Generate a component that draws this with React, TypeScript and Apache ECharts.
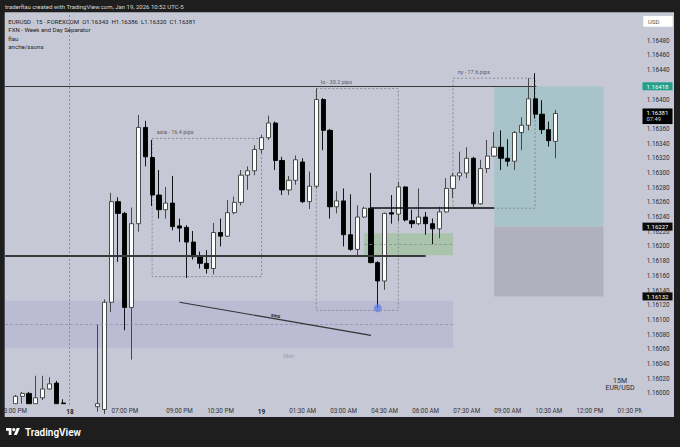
import React, { useEffect, useRef } from "react";
import * as echarts from "echarts";

const FONT = "Roboto, 'Noto Sans', sans-serif";
const BG = "#c7c8d6";
const FRAME = "#1e1e1e";

function quarterHours(day: string, startHour: number, count: number): string[] {
  const out: string[] = [];
  for (let i = 0; i < count; i++) {
    const m = Math.round(startHour * 60) + i * 15;
    const hh = String(Math.floor(m / 60)).padStart(2, "0");
    const mm = String(m % 60).padStart(2, "0");
    out.push(`${day} ${hh}:${mm}`);
  }
  return out;
}

// 15-minute bars: Friday close, Sunday open, Monday
const categories: string[] = [
  ...quarterHours("16", 14.75, 9),
  ...quarterHours("18", 17, 28),
  ...quarterHours("19", 0, 56),
];

const tickKeys = ["16 15:00", "18 17:00", "18 19:00", "18 21:00", "18 22:30", "19 00:00", "19 01:30", "19 03:00", "19 04:30", "19 06:00", "19 07:30", "19 09:00", "19 10:30", "19 12:00", "19 13:30"];
const tickTexts = ["3:00 PM", "18", "07:00 PM", "09:00 PM", "10:30 PM", "19", "01:30 AM", "03:00 AM", "04:30 AM", "06:00 AM", "07:30 AM", "09:00 AM", "10:30 AM", "12:00 PM", "01:30 PM"];
const boldTicks = ["18", "19"];

// price scale labels (1.16420 and 1.16380 sit fully under the price tags)
const priceTicks = [1.16, 1.1602, 1.1604, 1.1606, 1.1608, 1.161, 1.1612, 1.1614, 1.1616, 1.1618, 1.162, 1.1622, 1.1624, 1.1626, 1.1628, 1.163, 1.1632, 1.1634, 1.1636, 1.164, 1.1644, 1.1646, 1.1648];

// Friday bars from 15:00
const fridayFirst = "16 15:00";
const fridayOpen = [1.15986, 1.15996, 1.16, 1.15986, 1.15994, 1.16006, 1.16014, 1.15987];
const fridayHigh = [1.15998, 1.16002, 1.16002, 1.16024, 1.16024, 1.16022, 1.16017, 1.15992];
const fridayLow = [1.15986, 1.15986, 1.15986, 1.15986, 1.15991, 1.16005, 1.15986, 1.15986];
const fridayClose = [1.15996, 1.16, 1.15986, 1.15994, 1.16006, 1.16013, 1.15986, 1.15986];

// Sunday/Monday bars from 18:00
const sessionFirst = "18 18:00";
const sessionOpen = [
  1.15982, 1.15978, 1.16124, 1.16261, 1.16245, 1.16117, 1.16231, 1.16362, 1.16321, 1.1627,
  1.1625, 1.16259, 1.16228, 1.16226, 1.16206, 1.16186, 1.16177, 1.1617, 1.16219, 1.16214,
  1.16246, 1.1626, 1.16297, 1.16303, 1.16332, 1.16348, 1.16368, 1.16317, 1.16277, 1.1629,
  1.16315, 1.16261, 1.16282, 1.164, 1.16358, 1.16254, 1.16262, 1.16216, 1.16196, 1.1624,
  1.16252, 1.16178, 1.16153, 1.16246, 1.16244, 1.16281, 1.16235, 1.16231, 1.1624, 1.16231,
  1.16224, 1.16247, 1.16279, 1.16296, 1.163, 1.1632, 1.16258, 1.16306, 1.16323, 1.16335,
  1.1632, 1.16316, 1.16355, 1.16365, 1.16401, 1.1638, 1.16359, 1.16343,
];
const sessionHigh = [
  1.16094, 1.16128, 1.16273, 1.16267, 1.16247, 1.16253, 1.16379, 1.16371, 1.16345, 1.16304,
  1.16281, 1.16296, 1.16238, 1.16229, 1.16221, 1.16193, 1.16195, 1.16232, 1.16238, 1.16263,
  1.16268, 1.16304, 1.16309, 1.16338, 1.16352, 1.16378, 1.1637, 1.16322, 1.16296, 1.16324,
  1.1632, 1.16302, 1.16415, 1.16402, 1.1636, 1.16275, 1.16279, 1.16271, 1.16256, 1.16254,
  1.163, 1.1618, 1.16246, 1.1627, 1.16288, 1.16282, 1.1625, 1.16279, 1.16247, 1.16238,
  1.16254, 1.16293, 1.163, 1.16329, 1.16335, 1.16322, 1.16318, 1.16345, 1.16356, 1.16358,
  1.16346, 1.16357, 1.16376, 1.16429, 1.16436, 1.16399, 1.1637, 1.16386,
];
const sessionLow = [
  1.15975, 1.15972, 1.16111, 1.16179, 1.16086, 1.16046, 1.1622, 1.16309, 1.16255, 1.16238,
  1.16238, 1.16222, 1.16206, 1.16157, 1.16182, 1.1617, 1.16163, 1.16162, 1.162, 1.16213,
  1.16244, 1.16256, 1.16277, 1.16297, 1.16327, 1.16345, 1.16304, 1.1627, 1.1627, 1.16284,
  1.16259, 1.16251, 1.16279, 1.16331, 1.16238, 1.16245, 1.162, 1.16194, 1.16186, 1.16239,
  1.16177, 1.16116, 1.16141, 1.16231, 1.16234, 1.16234, 1.16225, 1.16229, 1.16216, 1.16203,
  1.16211, 1.16246, 1.16266, 1.1629, 1.16293, 1.16254, 1.16257, 1.163, 1.16322, 1.16304,
  1.16309, 1.16304, 1.16331, 1.16358, 1.16374, 1.16353, 1.16336, 1.1632,
];
const sessionClose = [
  1.15986, 1.16124, 1.16261, 1.16245, 1.16117, 1.16231, 1.16362, 1.16322, 1.1627, 1.1625,
  1.16259, 1.16227, 1.16225, 1.16206, 1.16186, 1.16177, 1.1617, 1.16219, 1.16214, 1.16246,
  1.1626, 1.16297, 1.16303, 1.16332, 1.16348, 1.16368, 1.16317, 1.16277, 1.1629, 1.16318,
  1.16261, 1.16282, 1.164, 1.16358, 1.16254, 1.16262, 1.16216, 1.16196, 1.1624, 1.16252,
  1.16178, 1.16153, 1.16245, 1.16244, 1.16281, 1.16236, 1.16231, 1.1624, 1.16231, 1.16224,
  1.16247, 1.16279, 1.16296, 1.163, 1.1632, 1.16258, 1.16306, 1.16323, 1.16335, 1.1632,
  1.16316, 1.16355, 1.16365, 1.16401, 1.1638, 1.16359, 1.16344, 1.16381,
];

// drawings (prices)
const tpPrice = 1.16418;
const entryPrice = 1.16227;
const slPrice = 1.16132;
const lastPrice = 1.16381;
const countdown = "07:49";
const keyLevel = 1.16187;
const nyLowLevel = 1.16252;
const mondayBand = [1.16126, 1.16062, 1.16094];
const greenZone = [1.16218, 1.16188, 1.16203];
const sessionBoxes = [
  { text: "asia - 16.4 pips", from: "18 20:00", to: "19 00:00", high: 1.16347, low: 1.16159 },
  { text: "lo - 30.2 pips", from: "19 02:00", to: "19 05:00", high: 1.16415, low: 1.16113 },
  { text: "ny - 17.6 pips", from: "19 07:00", to: "19 10:00", high: 1.16429, low: 1.16252 },
];
const trendLine = { from: "18 21:00", to: "19 04:00", start: 1.16124, end: 1.16079, text: "sms" };
const sweepPoint = { at: "19 04:15", price: 1.16116 };

const ix = (k: string) => categories.indexOf(k);

function buildCandles() {
  const data: any[] = categories.map(() => "-");
  const f0 = ix(fridayFirst);
  fridayOpen.forEach((o, i) => {
    data[f0 + i] = [o, fridayClose[i], fridayLow[i], fridayHigh[i]];
  });
  const s0 = ix(sessionFirst);
  sessionOpen.forEach((o, i) => {
    data[s0 + i] = [o, sessionClose[i], sessionLow[i], sessionHigh[i]];
  });
  return data;
}

export default function App() {
  const ref = useRef<HTMLDivElement>(null);
  useEffect(() => {
    if (!ref.current) return;
    const chart = echarts.init(ref.current, null, { renderer: "svg" });
    echarts.graphic.registerShape(
      "tvlogo",
      echarts.graphic.extendPath("M14 22H7V11H0V4h14v18zM28 22h-8l7.5-18h8L28 22z", {})
    );
    const N = categories.length;
    const leftEdge = -0.5;

    const box = (b: any) => [
      {
        coord: [ix(b.from), b.high],
        itemStyle: { color: "rgba(0,0,0,0)", borderColor: "#7d7d8a", borderWidth: 0.8, borderType: [2, 2] },
        label: { show: true, position: [5, -9], formatter: b.text, fontSize: 5.5, color: "#5a5a66", fontFamily: FONT },
      },
      { coord: [ix(b.to), b.low] },
    ];
    const zone = (x1: number, y1: number, x2: number, y2: number, color: string) => [
      { coord: [x1, y1], itemStyle: { color, borderWidth: 0 }, label: { show: false } },
      { coord: [x2, y2] },
    ];

    const option: any = {
      animation: false,
      backgroundColor: BG,
      textStyle: { fontFamily: FONT },
      grid: { left: 5.1, right: 38.9, top: 12.3, bottom: 42, containLabel: false, outerBoundsMode: "none" },
      xAxis: [
        {
          type: "category",
          data: categories,
          boundaryGap: true,
          axisLine: { show: false },
          axisTick: { show: false },
          splitLine: { show: false },
          axisLabel: {
            interval: (_i: number, v: string) => tickKeys.indexOf(v) >= 0,
            formatter: (v: string) => {
              const k = tickKeys.indexOf(v);
              if (k < 0) return "";
              const t = tickTexts[k];
              return boldTicks.indexOf(t) >= 0 ? `{b|${t}}` : t;
            },
            margin: 3,
            fontSize: 6.3,
            color: "#333",
            fontFamily: FONT,
            rich: { b: { fontWeight: "bold", fontSize: 6.5, color: "#222", fontFamily: FONT } },
          },
        },
        { type: "value", min: leftEdge, max: N - 0.5, show: false },
      ],
      yAxis: {
        type: "value",
        position: "right",
        min: 1.159842,
        max: 1.165187,
        axisLine: { show: false },
        axisTick: { show: false },
        splitLine: { show: false },
        axisLabel: {
          customValues: priceTicks,
          formatter: (v: number) => v.toFixed(5),
          margin: 5.6,
          fontSize: 6.3,
          color: "#2e2e2e",
          fontFamily: FONT,
        },
      },
      series: [
        {
          type: "scatter",
          name: "zones",
          xAxisIndex: 1,
          yAxisIndex: 0,
          data: [],
          z: 1,
          silent: true,
          markArea: {
            silent: true,
            data: [
              zone(leftEdge, mondayBand[0], ix("19 07:00"), mondayBand[1], "#bbbbd3"),
              zone(ix("19 03:45"), greenZone[0], ix("19 07:00"), greenZone[1], "#a9c3ad"),
              zone(ix("19 08:30"), tpPrice, ix("19 12:30"), entryPrice, "#a8c4ca"),
              zone(ix("19 08:30"), entryPrice, ix("19 12:30"), slPrice, "#b0b1bc"),
              ...sessionBoxes.map(box),
            ],
          },
          markLine: {
            silent: true,
            symbol: ["none", "none"],
            label: { show: false },
            data: [
              { xAxis: ix("18 17:00") - 0.15, lineStyle: { color: "#80808c", width: 0.8, type: [2, 2] } },
              [
                { coord: [leftEdge, mondayBand[2]], lineStyle: { color: "#8a8aa4", width: 0.7, type: [3, 2] } },
                { coord: [ix("19 07:00"), mondayBand[2]] },
              ],
              [
                { coord: [ix("19 03:45"), greenZone[2]], lineStyle: { color: "#7d9682", width: 0.7, type: [3, 2] } },
                { coord: [ix("19 07:00"), greenZone[2]] },
              ],
            ],
          },
          markPoint: {
            silent: true,
            symbol: "rect",
            symbolSize: 1,
            itemStyle: { color: "rgba(0,0,0,0)" },
            data: [
              {
                coord: [ix("19 01:00"), 1.16051],
                label: { show: true, position: "inside", formatter: "Mon", fontSize: 5.5, color: "#9a9aae", fontFamily: FONT },
              },
            ],
          },
        },
        {
          type: "candlestick",
          name: "EURUSD",
          xAxisIndex: 0,
          yAxisIndex: 0,
          data: buildCandles(),
          barWidth: 4.7,
          clip: true,
          z: 2,
          itemStyle: {
            color: "#ffffff",
            color0: "#000000",
            borderColor: "#3a3a3a",
            borderColor0: "#000000",
            borderWidth: 0.9,
          },
        },
        {
          type: "scatter",
          name: "overlay",
          xAxisIndex: 1,
          yAxisIndex: 0,
          z: 4,
          silent: true,
          data: [[ix(sweepPoint.at), sweepPoint.price]],
          symbolSize: 8,
          itemStyle: { color: "rgba(86,122,232,0.85)" },
          markLine: {
            silent: true,
            symbol: ["none", "none"],
            label: { show: false },
            data: [
              [
                { coord: [leftEdge, tpPrice], lineStyle: { color: "#3a3a3a", width: 1, type: "solid" } },
                { coord: [ix("19 10:00") + 0.2, tpPrice] },
              ],
              [
                { coord: [leftEdge, keyLevel], lineStyle: { color: "#3a3a3a", width: 2, type: "solid" } },
                { coord: [ix("19 06:00"), keyLevel] },
              ],
              [
                { coord: [ix("19 04:00"), nyLowLevel], lineStyle: { color: "#111", width: 1.5, type: "solid" } },
                { coord: [ix("19 08:30"), nyLowLevel] },
              ],
              [
                {
                  coord: [ix(trendLine.from), trendLine.start],
                  lineStyle: { color: "#333", width: 1.1, type: "solid" },
                  label: { show: true, position: "middle", formatter: trendLine.text, fontSize: 5, fontWeight: "bold", color: "#222", distance: 1 },
                },
                { coord: [ix(trendLine.to), trendLine.end] },
              ],
            ],
          },
        },
      ],
    };
    chart.setOption(option);

    const py = (p: number) => chart.convertToPixel({ yAxisIndex: 0 }, p) as number;
    const tag = (p: number, fill: string) => [
      { type: "rect", z: 120, silent: true, shape: { x: 642.5, y: py(p) - 4, width: 30, height: 8 }, style: { fill } },
      {
        type: "text", z: 121, silent: true, x: 657.5, y: py(p),
        style: { text: p.toFixed(5), fill: "#ffffff", fontSize: 6, fontFamily: FONT, align: "center", verticalAlign: "middle" },
      },
    ];
    const ly = py(lastPrice);
    const graphics: any[] = [
      { type: "rect", z: 100, silent: true, shape: { x: 0, y: 0, width: 680, height: 12.3 }, style: { fill: FRAME } },
      { type: "rect", z: 100, silent: true, shape: { x: 0, y: 417, width: 680, height: 30 }, style: { fill: FRAME } },
      { type: "rect", z: 100, silent: true, shape: { x: 0, y: 0, width: 4.7, height: 447 }, style: { fill: FRAME } },
      { type: "rect", z: 100, silent: true, shape: { x: 674, y: 0, width: 6, height: 447 }, style: { fill: FRAME } },
      { type: "rect", z: 90, silent: true, shape: { x: 641.5, y: 405, width: 32.5, height: 12 }, style: { fill: BG } },
      {
        type: "text", z: 101, silent: true, x: 5, y: 6.8,
        style: { text: "traderflau created with TradingView.com, Jan 19, 2026 10:52 UTC-5", fill: "#d9d9d9", fontSize: 6, fontFamily: FONT, verticalAlign: "middle" },
      },
      {
        type: "text", z: 101, silent: true, x: 8.3, y: 21.3,
        style: { text: "EURUSD · 15 · FOREXCOM  O1.16343  H1.16386  L1.16320  C1.16381", fill: "#1c1c1c", fontSize: 6.1, fontFamily: FONT, verticalAlign: "middle" },
      },
      { type: "text", z: 101, silent: true, x: 8.3, y: 29.7, style: { text: "FXN - Week and Day Separator", fill: "#1c1c1c", fontSize: 6.1, fontFamily: FONT, verticalAlign: "middle" } },
      { type: "text", z: 101, silent: true, x: 8.3, y: 38, style: { text: "flau", fill: "#1c1c1c", fontSize: 6.1, fontFamily: FONT, verticalAlign: "middle" } },
      { type: "text", z: 101, silent: true, x: 8.3, y: 46.2, style: { text: "anche/ssons", fill: "#1c1c1c", fontSize: 6.1, fontFamily: FONT, verticalAlign: "middle" } },
      { type: "rect", z: 101, silent: true, shape: { x: 643.3, y: 16, width: 29.4, height: 10.7, r: 1 }, style: { fill: "#ffffff" } },
      { type: "text", z: 102, silent: true, x: 648, y: 21.4, style: { text: "USD", fill: "#555", fontSize: 6, fontFamily: FONT, verticalAlign: "middle" } },
      { type: "text", z: 101, silent: true, x: 620, y: 380.5, style: { text: "15M", fill: "#2a2a2a", fontSize: 7, fontFamily: FONT, align: "center", verticalAlign: "middle" } },
      { type: "text", z: 101, silent: true, x: 620, y: 387.8, style: { text: "EUR/USD", fill: "#2a2a2a", fontSize: 7, fontFamily: FONT, align: "center", verticalAlign: "middle" } },
      { type: "tvlogo", z: 101, silent: true, x: 6, y: 426.4, scaleX: 0.39, scaleY: 0.39, style: { fill: "#ffffff" } },
      { type: "circle", z: 101, silent: true, shape: { cx: 13.8, cy: 429.6, r: 1.6 }, style: { fill: "#ffffff" } },
      {
        type: "text", z: 101, silent: true, x: 25, y: 432,
        style: { text: "TradingView", fill: "#ffffff", fontSize: 10, fontWeight: 600, fontFamily: FONT, verticalAlign: "middle" },
      },
      ...tag(tpPrice, "#21a08a"),
      ...tag(entryPrice, "#0b0b0b"),
      ...tag(slPrice, "#0b0b0b"),
      { type: "rect", z: 120, silent: true, shape: { x: 642.5, y: ly - 5, width: 30, height: 15.6 }, style: { fill: "#000000" } },
      { type: "text", z: 121, silent: true, x: 646.5, y: ly - 0.6, style: { text: lastPrice.toFixed(5), fill: "#ffffff", fontSize: 6, fontFamily: FONT, verticalAlign: "middle" } },
      { type: "text", z: 121, silent: true, x: 646.5, y: ly + 5.9, style: { text: countdown, fill: "#dddddd", fontSize: 5.8, fontFamily: FONT, verticalAlign: "middle" } },
    ];
    chart.setOption({ graphic: graphics });
    return () => chart.dispose();
  }, []);
  return <div ref={ref} style={{ position: "fixed", left: 0, top: 0, width: 680, height: 447 }} />;
}
